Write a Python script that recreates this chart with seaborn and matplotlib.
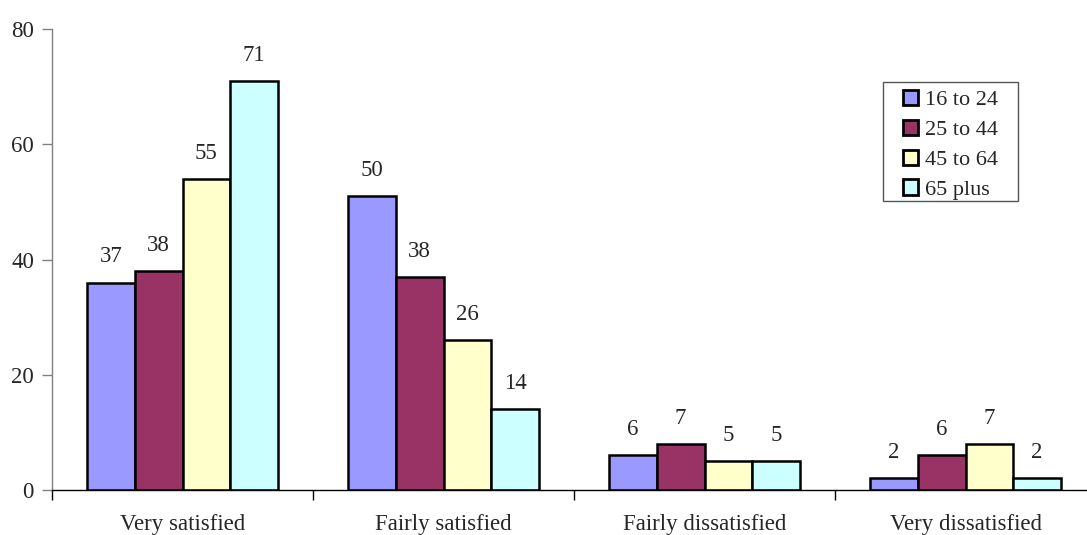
import pandas as pd
import seaborn as sns
import matplotlib.pyplot as plt
from matplotlib.patches import Rectangle

# Data
categories = ["Very satisfied", "Fairly satisfied", "Fairly dissatisfied", "Very dissatisfied"]
age_groups = ["16 to 24", "25 to 44", "45 to 64", "65 plus"]

# bar heights as drawn
age_16_24 = [36, 51, 6, 2]
age_25_44 = [38, 37, 8, 6]
age_45_64 = [54, 26, 5, 8]
age_65_plus = [71, 14, 5, 2]

# printed value labels
labels_16_24 = ["37", "50", "6", "2"]
labels_25_44 = ["38", "38", "7", "6"]
labels_45_64 = ["55", "26", "5", "7"]
labels_65_plus = ["71", "14", "5", "2"]

colors = ["#9999FF", "#993366", "#FFFFCC", "#CCFFFF"]

series = [age_16_24, age_25_44, age_45_64, age_65_plus]
bar_labels = [labels_16_24, labels_25_44, labels_45_64, labels_65_plus]

rows = []
for group, values in zip(age_groups, series):
    for cat, v in zip(categories, values):
        rows.append({"category": cat, "age": group, "value": v})
df = pd.DataFrame(rows)

sns.set_theme(style="white")
plt.rcParams["font.family"] = ["Liberation Serif", "DejaVu Serif"]

W, H = 1087, 535
fig = plt.figure(figsize=(W / 100, H / 100), dpi=100)
ax = fig.add_axes([52 / W, 45 / H, 1044 / W, 461 / H])

sns.barplot(
    data=df, x="category", y="value", hue="age",
    order=categories, hue_order=age_groups,
    palette=colors, width=0.73, gap=0,
    edgecolor="black", linewidth=1.8, saturation=1, ax=ax
)

# Value labels above bars
for container, labs in zip(ax.containers, bar_labels):
    ax.bar_label(container, labels=labs, padding=11, fontsize=16.5)

ax.set_ylim(0, 80)
ax.set_xlim(-0.5, 3.5)
ax.set_yticks([0, 20, 40, 60, 80])
ax.set_xlabel("")
ax.set_ylabel("")

# category boundary ticks
ax.set_xticks([-0.5, 0.5, 1.5, 2.5, 3.5], minor=True)
ax.tick_params(axis="x", which="major", length=0, labelsize=16.5, pad=17)
ax.tick_params(axis="x", which="minor", length=7, width=1, color="black", direction="out", bottom=True)
ax.tick_params(axis="y", length=7, width=1, color="#808080", direction="out", labelsize=16.5, pad=6, left=True)

for side in ["top", "right"]:
    ax.spines[side].set_visible(False)
ax.spines["left"].set_color("#808080")
ax.spines["left"].set_linewidth(1)
ax.spines["bottom"].set_color("black")
ax.spines["bottom"].set_linewidth(1)

# Legend (entries without frame, box drawn separately for Excel-like padding)
handles, labels = ax.get_legend_handles_labels()
ax.get_legend().remove()
leg = ax.legend(
    handles, labels,
    loc="upper left", bbox_to_anchor=(903 / W, 1 - 90 / H),
    bbox_transform=fig.transFigure, borderaxespad=0, borderpad=0,
    frameon=False, fontsize=16, handlelength=0.68, handleheight=0.68,
    handletextpad=0.3, labelspacing=0.42,
)
for p in leg.get_patches():
    p.set_edgecolor("black")
    p.set_linewidth(2)

fig.patches.append(Rectangle(
    (883 / W, 1 - 201 / H), 135 / W, 119 / H, transform=fig.transFigure,
    facecolor="none", edgecolor="#555555", linewidth=1, zorder=5
))

fig.savefig("out.png", dpi=100)
